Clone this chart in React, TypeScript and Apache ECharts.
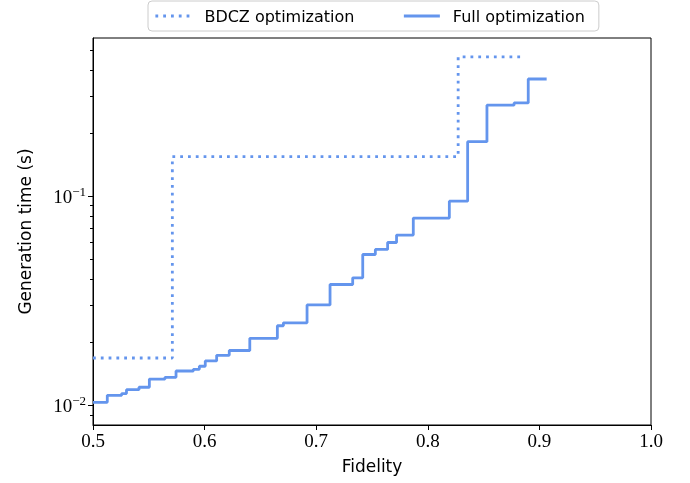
import React, { useEffect, useRef } from "react";
import * as echarts from "echarts";

const fullX = [0.5, 0.5128, 0.5257, 0.530, 0.5412, 0.5505, 0.5645, 0.5744, 0.5899, 0.5953, 0.6006, 0.6108, 0.6221, 0.6405, 0.6652, 0.6706, 0.6918, 0.7124, 0.7327, 0.7417, 0.753, 0.764, 0.772, 0.787, 0.8193, 0.8357, 0.853, 0.8773, 0.890, 0.9065];
const fullY = [0.01033, 0.01116, 0.01138, 0.01188, 0.0122, 0.01335, 0.0136, 0.01459, 0.01486, 0.01537, 0.0163, 0.01734, 0.01828, 0.0209, 0.0240, 0.0248, 0.0302, 0.0378, 0.0407, 0.0526, 0.0556, 0.060, 0.0651, 0.0785, 0.0946, 0.182, 0.272, 0.279, 0.363, 0.363];
const bdczX = [0.5, 0.5711, 0.8272, 0.884];
const bdczY = [0.01683, 0.1545, 0.463, 0.463];
const xTicks = [0.5, 0.6, 0.7, 0.8, 0.9, 1.0];
const yMajor = [0.01, 0.1];
const yMinor = [0.009, 0.02, 0.03, 0.04, 0.05, 0.06, 0.07, 0.08, 0.09, 0.2, 0.3, 0.4, 0.5];

const COLOR = "#6495ED";
const SERIF = "Liberation Serif";
const SANS = "DejaVu Sans";

export default function App() {
  const ref = useRef<HTMLDivElement>(null);
  useEffect(() => {
    const chart = echarts.init(ref.current!, null, { renderer: "svg" });
    const yBase = { type: "log", logBase: 10, min: 0.00805, max: 0.57, position: "left", splitLine: { show: false } };
    chart.setOption({
      animation: false,
      grid: { left: 93, right: 39, top: 38, bottom: 58, show: true, borderColor: "#000", borderWidth: 1, backgroundColor: "transparent" },
      legend: {
        top: 1, left: 148, padding: [7, 14, 7, 6], itemGap: 48, itemWidth: 36, itemHeight: 12,
        borderColor: "#cccccc", borderWidth: 1, borderRadius: 4, backgroundColor: "#fff",
        itemStyle: { opacity: 0 },
        textStyle: { fontFamily: SANS, fontSize: 16, color: "#000", padding: [0, 0, 0, 8] },
        data: [
          { name: "BDCZ optimization", lineStyle: { color: COLOR, width: 2.8, type: [2.8, 5], cap: "butt" } },
          { name: "Full optimization", lineStyle: { color: COLOR, width: 2.8, type: "solid" } },
        ],
      },
      xAxis: {
        type: "value", min: 0.5, max: 1.0, interval: 0.1,
        name: "Fidelity", nameLocation: "middle", nameGap: 32,
        nameTextStyle: { fontFamily: SANS, fontSize: 17, color: "#000" },
        axisLine: { show: true, lineStyle: { color: "#000", width: 1 } },
        axisTick: { show: true, length: 5, lineStyle: { color: "#000" } },
        axisLabel: { fontFamily: SERIF, fontSize: 19, color: "#000", margin: 6, formatter: (v: number) => v.toFixed(1), customValues: xTicks },
        splitLine: { show: false },
      },
      yAxis: [
        {
          ...yBase,
          name: "Generation time (s)", nameLocation: "middle", nameGap: 60,
          nameTextStyle: { fontFamily: SANS, fontSize: 17, color: "#000" },
          axisLine: { show: true, lineStyle: { color: "#000", width: 1 } },
          axisTick: { show: true, length: 5, lineStyle: { color: "#000" }, customValues: yMajor },
          axisLabel: {
            color: "#000", margin: 7, customValues: yMajor,
            formatter: (v: number) => `{b|10}{s|−${Math.round(-Math.log10(v))}}`,
            rich: {
              b: { fontFamily: SERIF, fontSize: 19, color: "#000" },
              s: { fontFamily: SERIF, fontSize: 13, color: "#000", padding: [0, 0, 9, 0] },
            },
          },
        },
        {
          ...yBase,
          axisLine: { show: false },
          axisTick: { show: true, length: 3, lineStyle: { color: "#000" }, customValues: yMinor },
          axisLabel: { show: false },
        },
      ],
      series: [
        {
          name: "BDCZ optimization", type: "line", step: "end", symbol: "none",
          data: bdczX.map((x, i) => [x, bdczY[i]]),
          lineStyle: { color: COLOR, width: 2.8, type: [2.8, 5], cap: "butt" },
          itemStyle: { color: COLOR },
        },
        {
          name: "Full optimization", type: "line", step: "end", symbol: "none",
          data: fullX.map((x, i) => [x, fullY[i]]),
          lineStyle: { color: COLOR, width: 2.8 },
          itemStyle: { color: COLOR },
        },
      ],
    });
    return () => chart.dispose();
  }, []);
  return <div ref={ref} style={{ position: "fixed", left: 0, top: 0, width: 690, height: 483 }} />;
}
